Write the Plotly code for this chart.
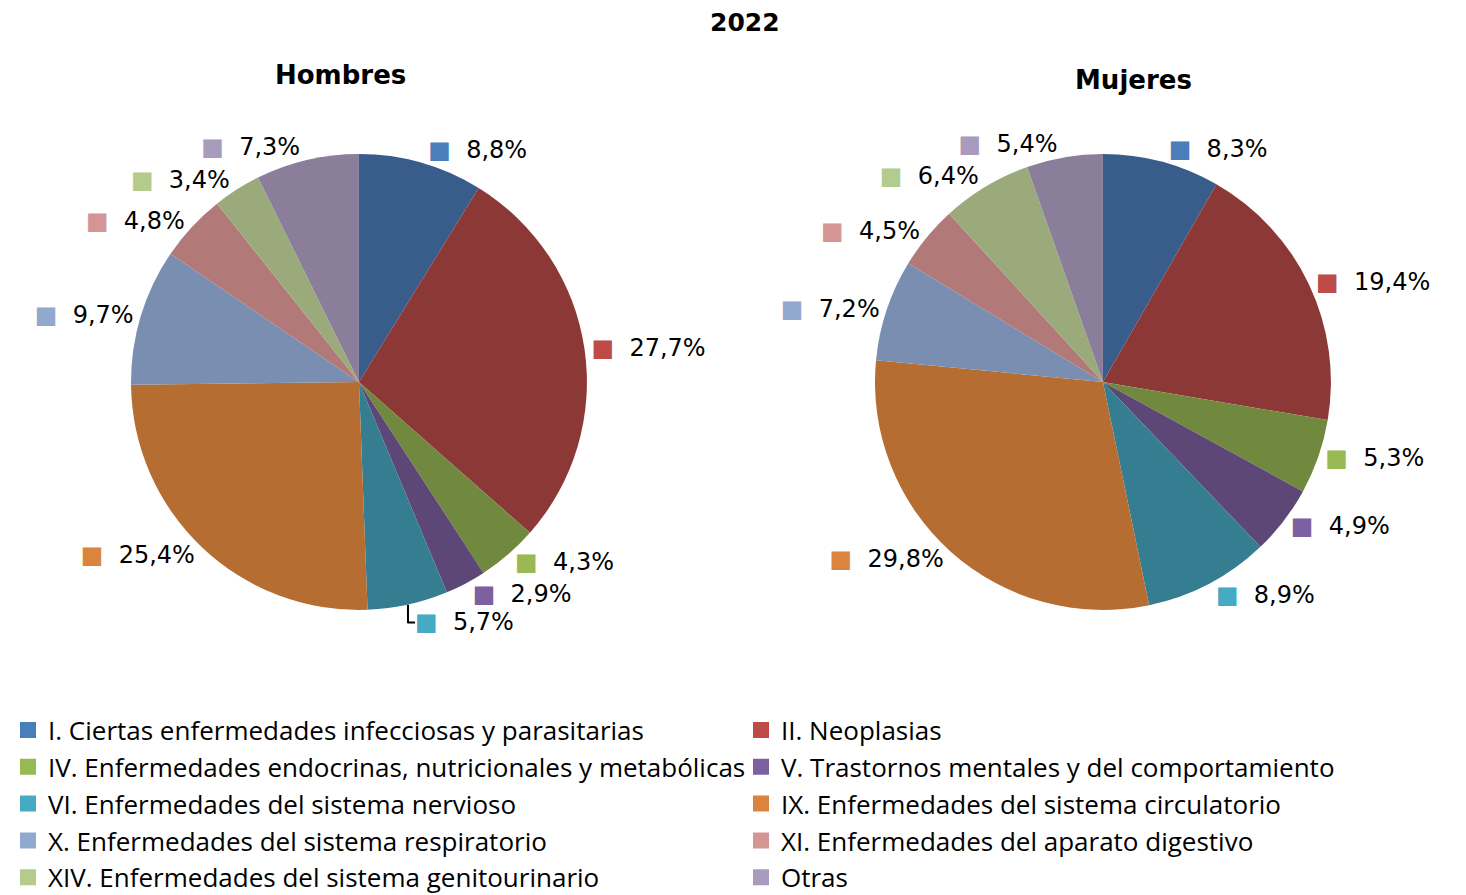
import plotly.graph_objects as go

# Datos (porcentajes)
categorias = [
    "I. Ciertas enfermedades infecciosas y parasitarias",
    "II. Neoplasias",
    "IV. Enfermedades endocrinas, nutricionales y metabólicas",
    "V. Trastornos mentales y del comportamiento",
    "VI. Enfermedades del sistema nervioso",
    "IX. Enfermedades del sistema circulatorio",
    "X. Enfermedades del sistema respiratorio",
    "XI. Enfermedades del aparato digestivo",
    "XIV. Enfermedades del sistema genitourinario",
    "Otras",
]
hombres = [8.8, 27.7, 4.3, 2.9, 5.7, 25.4, 9.7, 4.8, 3.4, 7.3]
mujeres = [8.3, 19.4, 5.3, 4.9, 8.9, 29.8, 7.2, 4.5, 6.4, 5.4]

# Colores de los sectores (sombreados) y de las marcas de leyenda
colores_sector = ["#385D8A", "#8C3836", "#71893F", "#5C4776", "#357D91",
                  "#B66D31", "#7A8EB2", "#B17A79", "#9AAA7A", "#8B7E9B"]
colores_marca = ["#4A7EBB", "#BE4B48", "#98B954", "#7D60A0", "#46AAC5",
                 "#DB843D", "#92A9CF", "#D69595", "#B3CB8D", "#A99BBD"]

plantillas = [
    "<span style='color:%s'>■</span>  %%{value:.1f}%%" % c for c in colores_marca
]

fig = go.Figure()

for valores, dominio in [
    (hombres, dict(x=[0.0839, 0.3949], y=[0.140, 0.7914])),
    (mujeres, dict(x=[0.5914, 0.9024], y=[0.140, 0.7914])),
]:
    fig.add_trace(go.Pie(
        labels=categorias,
        values=valores,
        sort=False,
        direction="clockwise",
        rotation=0,
        marker=dict(colors=colores_sector, line=dict(width=0)),
        textposition="outside",
        texttemplate=plantillas,
        textfont=dict(family="DejaVu Sans", size=24, color="#000000"),
        showlegend=False,
        hoverinfo="skip",
        domain=dominio,
    ))

# Leyenda con los colores claros de las marcas
for cat, col in zip(categorias, colores_marca):
    fig.add_trace(go.Scatter(
        x=[None], y=[None], mode="markers", name=cat,
        marker=dict(symbol="square", size=16, color=col),
        hoverinfo="skip",
    ))

fig.update_layout(
    width=1466,
    height=895,
    autosize=False,
    separators=",.",
    paper_bgcolor="#FFFFFF",
    plot_bgcolor="rgba(0,0,0,0)",
    margin=dict(l=0, r=0, t=0, b=195, autoexpand=False),
    xaxis=dict(visible=False),
    yaxis=dict(visible=False),
    showlegend=True,
    legend=dict(
        orientation="h",
        x=0.0, xanchor="left",
        y=0.002, yanchor="top",
        entrywidth=0.5,
        entrywidthmode="fraction",
        bgcolor="rgba(0,0,0,0)",
        font=dict(family="Open Sans", size=26, color="#000000"),
        itemwidth=30,
    ),
    annotations=[
        dict(text="<b>2022</b>", x=0.5027, y=0.979, xref="paper", yref="paper",
             xanchor="center", yanchor="middle", showarrow=False,
             font=dict(family="DejaVu Sans", size=25, color="#000000")),
        dict(text="<b>Hombres</b>", x=0.2265, y=0.904, xref="paper", yref="paper",
             xanchor="center", yanchor="middle", showarrow=False,
             font=dict(family="DejaVu Sans", size=26, color="#000000")),
        dict(text="<b>Mujeres</b>", x=0.7674, y=0.897, xref="paper", yref="paper",
             xanchor="center", yanchor="middle", showarrow=False,
             font=dict(family="DejaVu Sans", size=26, color="#000000")),
    ],
)

fig.write_html("out.html")
